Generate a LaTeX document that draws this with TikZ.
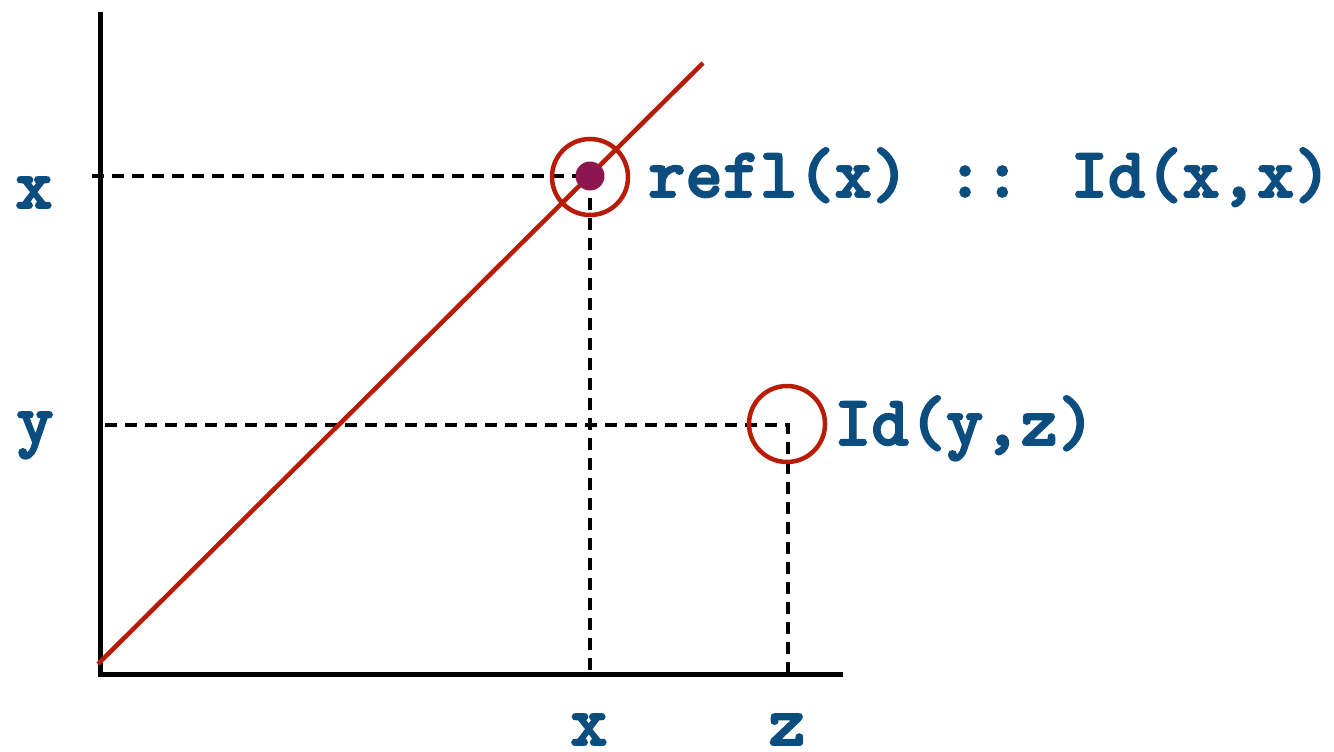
\documentclass[tikz,border=0pt]{standalone}
\usepackage{fontspec}
\newfontfamily\codefont{lmmonolt10-bold.otf}[FakeBold=2.5]
\begin{document}
\begin{tikzpicture}[x=1pt,y=-1pt,
  txt/.style={text=labblue,font=\codefont\fontsize{71}{71}\selectfont,inner sep=0pt},
  axis/.style={line width=5pt},
  guide/.style={line width=4pt,dash pattern=on 12pt off 8pt},
  diag/.style={line width=4.5pt,draw=diagred},
  ring/.style={circle,draw=diagred,line width=4.5pt,minimum size=76pt,inner sep=0pt},
  dotc/.style={circle,fill=dotpurple,minimum size=29pt,inner sep=0pt}]
\definecolor{labblue}{RGB}{10,77,126}
\definecolor{diagred}{RGB}{184,28,6}
\definecolor{dotpurple}{RGB}{142,22,80}
\useasboundingbox (0,0) rectangle (1334,752);
% coordinates
\coordinate (otop) at (100,12);
\coordinate (o) at (100,674);
\coordinate (oright) at (843,674);
\coordinate (dstart) at (98,664);
\coordinate (dend) at (703,63);
\coordinate (xl) at (92,176);
\coordinate (p) at (590,176);
\coordinate (pb) at (590,674);
\coordinate (yl) at (105,425);
\coordinate (q) at (788,425);
\coordinate (qb) at (788,674);
% guides
\draw[guide] (xl) -- (p) -- (pb);
\draw[guide] (yl) -- (q) -- (qb);
% axes
\draw[axis] (otop) -- (o) -- (oright);
% diagonal
\draw[diag] (dstart) -- (dend);
% rings and dot
\node[ring] (r1) at (590,177) {};
\node[ring] (r2) at (787,424) {};
\node[dotc] (dot) at (p) {};
% labels
\node[txt,anchor=base] (lx) at (34,208) {x};
\node[txt,anchor=base] (ly) at (35,443) {y};
\node[txt,anchor=base] (bx) at (589,745) {x};
\node[txt,anchor=base] (bz) at (787,745) {z};
\node[txt,anchor=base west] (refl) at (648,197) {refl(x) :: Id(x,x)};
\node[txt,anchor=base west] (idyz) at (834,445) {Id(y,z)};
\end{tikzpicture}
\end{document}
